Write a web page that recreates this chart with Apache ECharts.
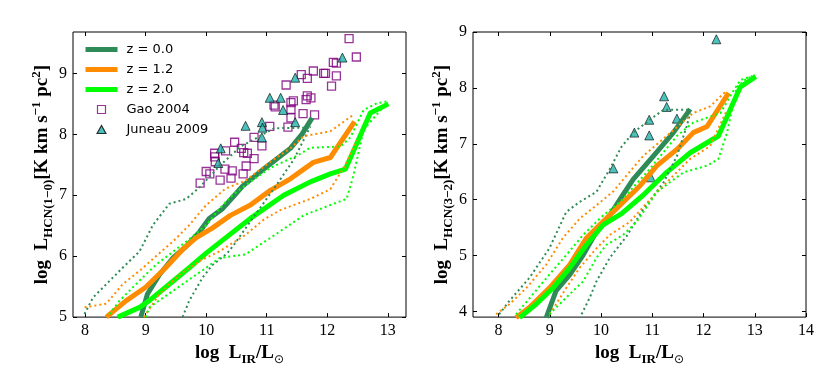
<!DOCTYPE html>
<html>
<head>
<meta charset="utf-8">
<script src="https://cdn.jsdelivr.net/npm/echarts@6.0.0/dist/echarts.min.js"></script>
<style>
  html, body { margin: 0; padding: 0; background: #fff; }
  #main { width: 831px; height: 371px; }
</style>
</head>
<body>
<div id="main"></div>
<script>
// ---- data ----
// left panel: log L_HCN(1-0) vs log L_IR
var hcn10_z00 = [[8.92,5.0],[9.03,5.38],[9.23,5.70],[9.45,5.97],[9.67,6.16],[9.89,6.40],[10.05,6.62],[10.27,6.78],[10.45,6.98],[10.6,7.15],[10.95,7.43],[11.39,7.77],[11.58,8.0],[11.75,8.27]];
var hcn10_z12 = [[8.35,5.0],[8.68,5.27],[9.0,5.49],[9.33,5.81],[9.61,6.11],[9.83,6.30],[10.1,6.46],[10.4,6.67],[10.73,6.84],[11.06,7.08],[11.39,7.27],[11.77,7.54],[12.05,7.62],[12.45,8.21]];
var hcn10_z20 = [[8.54,5.0],[8.9,5.16],[9.06,5.27],[9.39,5.54],[9.72,5.81],[10.0,6.05],[10.32,6.30],[10.73,6.62],[11.28,7.0],[11.72,7.22],[12.05,7.35],[12.3,7.43],[12.71,8.35],[13.01,8.50]];
var hcn10_z00_hi = [[7.99,5.05],[8.13,5.32],[8.35,5.54],[8.62,5.81],[8.90,6.08],[9.12,6.51],[9.39,6.86],[9.67,6.94],[9.89,7.13],[10.24,7.5],[10.57,7.8],[10.85,7.95],[11.12,8.1],[11.7,8.11]];
var hcn10_z00_lo = [[9.61,5.0],[9.72,5.27],[9.94,5.65],[10.1,5.85],[10.35,6.05],[10.46,6.19],[10.73,6.57],[11.12,7.11],[11.45,7.59],[11.72,8.13]];
var hcn10_z12_hi = [[7.99,5.16],[8.35,5.22],[8.62,5.54],[8.9,5.76],[9.17,6.0],[9.45,6.24],[9.72,6.51],[10.0,6.84],[10.32,7.11],[10.65,7.24],[11.06,7.55],[11.39,7.77],[11.61,7.97],[12.05,8.05],[12.43,8.32]];
var hcn10_z12_lo = [[8.97,5.0],[9.23,5.38],[9.56,5.70],[9.89,5.92],[10.22,6.08],[10.65,6.35],[10.95,6.6],[11.23,6.76],[11.72,6.94],[12.05,7.1],[12.3,7.5],[12.49,7.9]];
var hcn10_z20_hi = [[8.4,5.05],[8.57,5.27],[8.9,5.6],[9.17,5.86],[9.67,6.24],[10.0,6.51],[10.22,6.78],[10.43,7.0],[10.7,7.2],[11.06,7.45],[11.5,7.65],[11.72,7.78],[12.22,7.8],[12.38,7.95],[12.6,8.4],[12.82,8.51],[12.98,8.54]];
var hcn10_z20_lo = [[9.0,5.0],[9.06,5.16],[9.61,5.54],[10.0,5.81],[10.22,5.97],[10.65,6.03],[11.06,6.30],[11.61,6.67],[12.05,6.84],[12.32,6.94],[12.43,7.32],[12.6,8.08],[12.98,8.51]];

var gao2004 = [[12.36,9.57],[12.48,9.27],[12.10,9.18],[12.15,9.17],[11.77,9.04],[11.94,9.00],[11.97,9.00],[12.15,8.96],[11.57,8.98],[11.67,8.92],
  [11.32,8.81],[12.07,8.79],[11.67,8.63],[11.73,8.60],[11.65,8.57],[11.44,8.55],[11.40,8.52],[11.14,8.45],[11.12,8.48],[11.40,8.41],
  [11.60,8.34],[11.79,8.32],[11.40,8.27],[11.35,8.12],[11.05,8.13],[10.79,7.95],[10.92,7.81],[10.47,7.87],[10.58,7.77],[10.62,7.70],
  [10.68,7.69],[10.79,7.60],[10.32,7.73],[10.14,7.69],[10.14,7.63],[10.15,7.55],[10.66,7.48],[10.31,7.43],[10.43,7.40],[10.61,7.35],
  [10.41,7.28],[10.23,7.25],[10.00,7.39],[10.06,7.35],[9.90,7.20]];
var juneau2009_10 = [[11.05,8.60],[11.23,8.60],[11.27,8.40],[10.65,8.14],[10.92,8.20],[10.93,8.11],[10.92,7.95],[11.47,8.20],[10.24,7.77],[10.20,7.53],[12.25,9.26],[11.47,8.93]];

// right panel: log L_HCN(3-2) vs log L_IR
var hcn32_z00 = [[8.93,3.89],[9.12,4.37],[9.39,4.66],[9.65,5.01],[9.91,5.43],[10.17,5.72],[10.4,6.05],[10.63,6.37],[11.02,6.78],[11.41,7.2],[11.74,7.62]];
var hcn32_z12 = [[8.34,3.89],[8.6,4.07],[8.99,4.42],[9.39,4.84],[9.71,5.31],[10.04,5.61],[10.3,5.84],[10.76,6.25],[11.09,6.61],[11.48,6.9],[11.8,7.2],[12.07,7.31],[12.49,7.91]];
var hcn32_z20 = [[8.41,3.89],[8.73,4.13],[9.06,4.42],[9.39,4.78],[9.71,5.19],[10.04,5.55],[10.4,5.75],[10.82,6.08],[11.28,6.49],[11.74,6.84],[12.29,7.14],[12.72,8.02],[13.02,8.2]];
var hcn32_z00_hi = [[8.01,3.95],[8.21,4.19],[8.6,4.6],[8.99,5.13],[9.32,5.78],[9.58,5.96],[9.91,6.14],[10.17,6.55],[10.4,6.95],[10.63,7.2],[10.95,7.43],[11.22,7.61],[11.71,7.61]];
var hcn32_z00_lo = [[9.62,3.95],[9.78,4.25],[9.91,4.54],[10.17,4.96],[10.5,5.35],[10.8,5.8],[11.22,6.31],[11.48,6.78],[11.67,7.31],[11.74,7.55]];
var hcn32_z12_hi = [[7.95,3.95],[8.21,4.13],[8.54,4.42],[8.93,4.84],[9.25,5.31],[9.58,5.66],[9.91,5.9],[10.24,6.15],[10.56,6.5],[10.82,6.78],[11.28,7.14],[11.8,7.55],[12.13,7.67],[12.46,7.96]];
var hcn32_z12_lo = [[9.0,3.95],[9.32,4.42],[9.58,4.78],[9.91,5.13],[10.17,5.37],[10.56,5.6],[10.82,5.87],[11.28,6.31],[11.74,6.73],[12.13,6.96],[12.46,7.61]];
var hcn32_z20_hi = [[8.34,3.95],[8.67,4.31],[8.99,4.66],[9.32,5.01],[9.65,5.37],[10.04,5.72],[10.37,5.96],[10.95,6.55],[11.48,7.14],[11.8,7.38],[12.33,7.55],[12.59,7.96],[12.72,8.14],[13.01,8.23]];
var hcn32_z20_lo = [[8.99,3.95],[9.32,4.25],[9.65,4.54],[9.91,4.96],[10.1,5.19],[10.43,5.37],[10.69,5.6],[11.09,6.14],[11.61,6.49],[12.07,6.61],[12.29,6.73],[12.46,7.2],[12.65,8.02],[12.85,8.17],[13.01,8.23]];
var juneau2009_32 = [[12.25,8.87],[11.23,7.85],[11.28,7.66],[10.94,7.43],[10.65,7.20],[10.94,7.15],[11.48,7.45],[10.24,6.56],[10.97,6.40]];

// tick labels
var xTicksL = [8, 9, 10, 11, 12, 13];
var yTicksL = [5, 6, 7, 8, 9];
var xTicksR = [8, 9, 10, 11, 12, 13, 14];
var yTicksR = [4, 5, 6, 7, 8, 9];

var C0 = '#2e8b57', C1 = '#ff8c00', C2 = '#00ff00';
var SERIF = 'Liberation Serif';
var NONE = 'rgba(0,0,0,0)';

var myChart = echarts.init(document.getElementById('main'));

function thick(name, data, color, g) {
  return { name: name, type: 'line', xAxisIndex: g * 2, yAxisIndex: g * 2, data: data,
    symbol: 'none', silent: true, itemStyle: { color: NONE, borderColor: NONE },
    lineStyle: { color: color, width: 5, join: 'round' } };
}
function dotted(name, data, color, g) {
  return { name: name, type: 'line', xAxisIndex: g * 2, yAxisIndex: g * 2, data: data,
    symbol: 'none', silent: true, itemStyle: { color: NONE, borderColor: NONE },
    lineStyle: { color: color, width: 2, type: [2, 3] } };
}
function squares(name, data, g) {
  return { name: name, type: 'scatter', xAxisIndex: g * 2, yAxisIndex: g * 2, data: data,
    symbol: 'rect', symbolSize: 8, silent: true,
    itemStyle: { color: NONE, borderColor: '#800080', borderWidth: 1.3 } };
}
function triangles(name, data, g) {
  return { name: name, type: 'scatter', xAxisIndex: g * 2, yAxisIndex: g * 2, data: data,
    symbol: 'triangle', symbolSize: 9, silent: true,
    itemStyle: { color: '#20b2aa', borderColor: '#000', borderWidth: 0.8 } };
}

var nameRich = {
  b: { fontFamily: SERIF, fontWeight: 'bold', fontSize: 19, lineHeight: 25, color: '#000' },
  s: { fontFamily: SERIF, fontWeight: 'bold', fontSize: 13, lineHeight: 10, verticalAlign: 'bottom', color: '#000' },
  p: { fontFamily: SERIF, fontWeight: 'bold', fontSize: 13, lineHeight: 10, verticalAlign: 'top', color: '#000' },
  o: { fontFamily: 'DejaVu Sans', fontWeight: 'normal', fontSize: 12, lineHeight: 10, verticalAlign: 'bottom', color: '#000' }
};

function xAx(g, pos, min, max, ticks, labels) {
  var ax = { type: 'value', gridIndex: g, position: pos, min: min, max: max,
    axisLine: { show: false }, splitLine: { show: false },
    axisTick: { show: true, inside: true, length: 4, customValues: ticks, lineStyle: { color: '#000' } },
    axisLabel: { show: labels, customValues: ticks, margin: 6, fontFamily: SERIF, fontSize: 16, color: '#000' } };
  if (labels) {
    ax.name = '{b|log  L}{s|IR}{b|/L}{o|⊙}';
    ax.nameLocation = 'middle';
    ax.nameGap = 21;
    ax.nameTextStyle = { rich: nameRich };
  }
  return ax;
}
function yAx(g, pos, min, max, ticks, labels, title) {
  var ax = { type: 'value', gridIndex: g, position: pos, min: min, max: max,
    axisLine: { show: false }, splitLine: { show: false },
    axisTick: { show: true, inside: true, length: 4, customValues: ticks, lineStyle: { color: '#000' } },
    axisLabel: { show: labels, customValues: ticks, margin: 6, fontFamily: SERIF, fontSize: 16, color: '#000' } };
  if (labels) {
    ax.name = title;
    ax.nameLocation = 'middle';
    ax.nameGap = 18;
    ax.nameTextStyle = { rich: nameRich };
  }
  return ax;
}

var option = {
  animation: false,
  backgroundColor: '#fff',
  grid: [
    { left: 73, top: 32, width: 333, height: 288, show: true, borderColor: '#000', borderWidth: 1 },
    { left: 473, top: 32, width: 333, height: 287, show: true, borderColor: '#000', borderWidth: 1 }
  ],
  xAxis: [
    xAx(0, 'bottom', 7.8, 13.3, xTicksL, true),
    xAx(0, 'top', 7.8, 13.3, xTicksL, false),
    xAx(1, 'bottom', 7.5, 14, xTicksR, true),
    xAx(1, 'top', 7.5, 14, xTicksR, false)
  ],
  yAxis: [
    yAx(0, 'left', 5, 9.68, yTicksL, true, '{b|log  L}{s|HCN(1−0)}{b|[K km s}{p|−1}{b| pc}{p|2}{b|]}'),
    yAx(0, 'right', 5, 9.68, yTicksL, false),
    yAx(1, 'left', 3.9, 9, yTicksR, true, '{b|log  L}{s|HCN(3−2)}{b|[K km s}{p|−1}{b| pc}{p|2}{b|]}'),
    yAx(1, 'right', 3.9, 9, yTicksR, false)
  ],
  legend: {
    data: ['z = 0.0', 'z = 1.2', 'z = 2.0',
      { name: 'Gao 2004', icon: 'path://M0,0L10,0L10,10L0,10Z' },
      { name: 'Juneau 2009', icon: 'path://M5,0L10,9L0,9Z' }],
    orient: 'vertical', left: 83, top: 43, padding: 0,
    itemWidth: 32, itemHeight: 8, itemGap: 7, selectedMode: false,
    symbolKeepAspect: true,
    lineStyle: { width: 5 },
    itemStyle: { borderWidth: 1.2 },
    textStyle: { fontFamily: 'DejaVu Sans', fontSize: 13, color: '#000', padding: [0, 0, 0, 4] }
  },
  series: [
    squares('Gao 2004', gao2004, 0),
    triangles('Juneau 2009', juneau2009_10, 0),
    thick('z = 0.0', hcn10_z00, C0, 0),
    thick('z = 1.2', hcn10_z12, C1, 0),
    thick('z = 2.0', hcn10_z20, C2, 0),
    dotted('z0 hi', hcn10_z00_hi, C0, 0),
    dotted('z0 lo', hcn10_z00_lo, C0, 0),
    dotted('z1 hi', hcn10_z12_hi, C1, 0),
    dotted('z1 lo', hcn10_z12_lo, C1, 0),
    dotted('z2 hi', hcn10_z20_hi, C2, 0),
    dotted('z2 lo', hcn10_z20_lo, C2, 0),

    triangles('Juneau 2009 (3-2)', juneau2009_32, 1),
    thick('z = 0.0 (3-2)', hcn32_z00, C0, 1),
    thick('z = 1.2 (3-2)', hcn32_z12, C1, 1),
    thick('z = 2.0 (3-2)', hcn32_z20, C2, 1),
    dotted('z0 hi (3-2)', hcn32_z00_hi, C0, 1),
    dotted('z0 lo (3-2)', hcn32_z00_lo, C0, 1),
    dotted('z1 hi (3-2)', hcn32_z12_hi, C1, 1),
    dotted('z1 lo (3-2)', hcn32_z12_lo, C1, 1),
    dotted('z2 hi (3-2)', hcn32_z20_hi, C2, 1),
    dotted('z2 lo (3-2)', hcn32_z20_lo, C2, 1)
  ]
};

myChart.setOption(option);
</script>
</body>
</html>
